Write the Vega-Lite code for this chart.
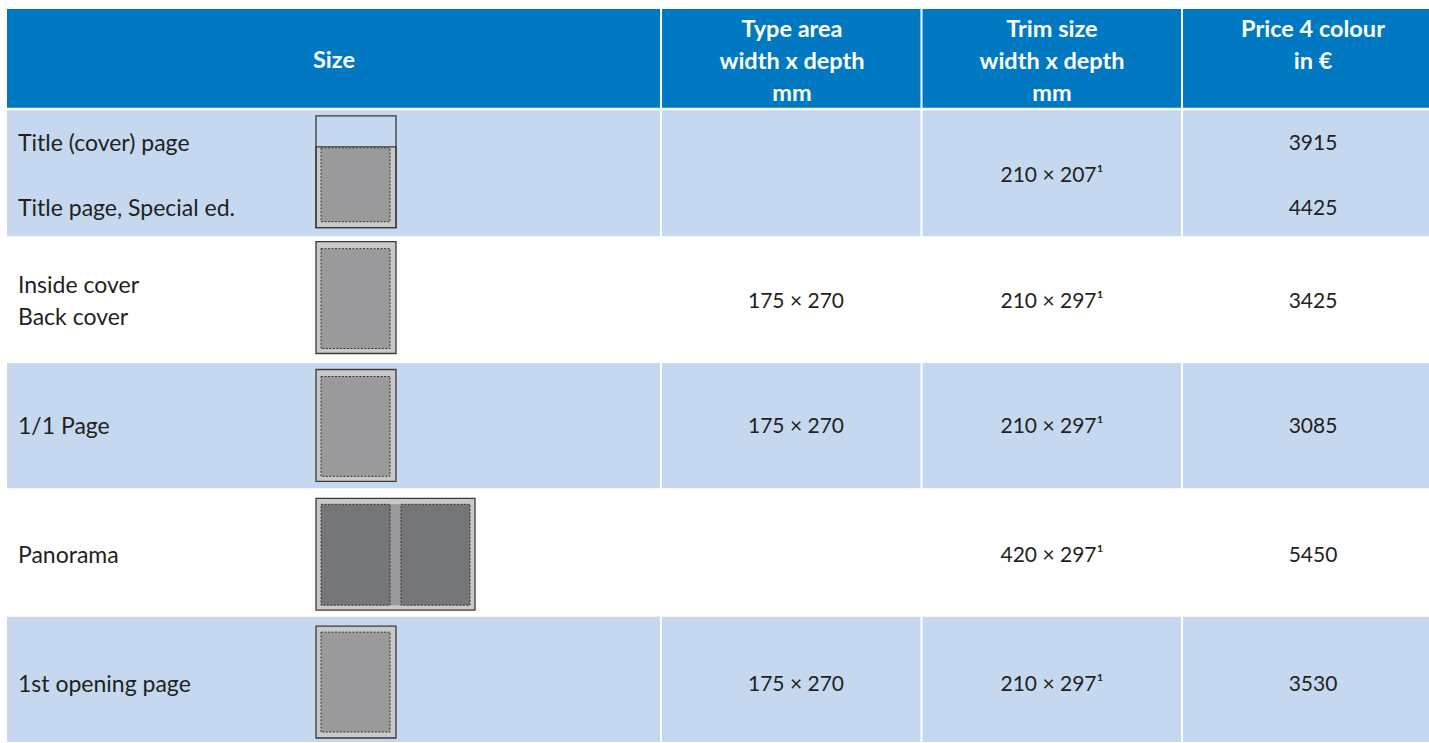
{
  "$schema": "https://vega.github.io/schema/vega-lite/v6.json",
  "width": 1429,
  "height": 743,
  "autosize": {"type": "fit", "contains": "padding"},
  "padding": 0,
  "background": "white",
  "config": {"view": {"stroke": null}, "font": "Lato"},
  "datasets": {
    "rows": [
      {"part": "header", "left": 7, "right": 1429, "top": 9, "bottom": 108},
      {"part": "shade", "left": 7, "right": 1429, "top": 110.5, "bottom": 236.5},
      {"part": "shade", "left": 7, "right": 1429, "top": 363.5, "bottom": 489},
      {"part": "shade", "left": 7, "right": 1429, "top": 617.5, "bottom": 743}
    ],
    "seps": [
      {"x": 661, "top": 9, "bottom": 743},
      {"x": 921.5, "top": 9, "bottom": 743},
      {"x": 1182, "top": 9, "bottom": 743}
    ],
    "icons": [
      {"icon": "cover", "part": "sheet", "x0": 316, "x1": 396, "y0": 147, "y1": 228},
      {"icon": "cover", "part": "type", "x0": 321, "x1": 390, "y0": 148, "y1": 222},
      {"icon": "cover", "part": "frame", "x0": 316, "x1": 396, "y0": 116, "y1": 228},
      {"icon": "inside", "part": "sheet", "x0": 316, "x1": 396, "y0": 242, "y1": 354},
      {"icon": "inside", "part": "type", "x0": 321, "x1": 390, "y0": 249, "y1": 349},
      {"icon": "page", "part": "sheet", "x0": 316, "x1": 396, "y0": 370, "y1": 482},
      {"icon": "page", "part": "type", "x0": 321, "x1": 390, "y0": 377, "y1": 477},
      {"icon": "panorama", "part": "sheet", "x0": 316, "x1": 475, "y0": 499, "y1": 611},
      {"icon": "panorama", "part": "gutter", "x0": 390, "x1": 401, "y0": 505, "y1": 606},
      {"icon": "panorama", "part": "spread", "x0": 321, "x1": 390, "y0": 505, "y1": 606},
      {"icon": "panorama", "part": "spread", "x0": 401, "x1": 470, "y0": 505, "y1": 606},
      {"icon": "opening", "part": "sheet", "x0": 316, "x1": 396, "y0": 627, "y1": 739},
      {"icon": "opening", "part": "type", "x0": 321, "x1": 390, "y0": 633, "y1": 733}
    ],
    "header": [
      {"label": "Size", "x": 334, "y": 61},
      {"label": "Type area", "x": 792, "y": 30},
      {"label": "width x depth", "x": 792, "y": 62},
      {"label": "mm", "x": 792, "y": 94},
      {"label": "Trim size", "x": 1052, "y": 30},
      {"label": "width x depth", "x": 1052, "y": 62},
      {"label": "mm", "x": 1052, "y": 94},
      {"label": "Price 4 colour", "x": 1313, "y": 30},
      {"label": "in €", "x": 1313, "y": 62}
    ],
    "sizes": [
      {"label": "Title (cover) page", "x": 18, "y": 144},
      {"label": "Title page, Special ed.", "x": 18, "y": 209},
      {"label": "Inside cover", "x": 18, "y": 286},
      {"label": "Back cover", "x": 18, "y": 318},
      {"label": "1/1 Page", "x": 18, "y": 428},
      {"label": "Panorama", "x": 18, "y": 557},
      {"label": "1st opening page", "x": 18, "y": 686}
    ],
    "values": [
      {"label": "175 × 270", "x": 796, "y": 302},
      {"label": "175 × 270", "x": 796, "y": 428},
      {"label": "175 × 270", "x": 796, "y": 686},
      {"label": "210 × 207¹", "x": 1052, "y": 176},
      {"label": "210 × 297¹", "x": 1052, "y": 302},
      {"label": "210 × 297¹", "x": 1052, "y": 428},
      {"label": "420 × 297¹", "x": 1052, "y": 557},
      {"label": "210 × 297¹", "x": 1052, "y": 686},
      {"label": "3915", "x": 1313, "y": 144},
      {"label": "4425", "x": 1313, "y": 209},
      {"label": "3425", "x": 1313, "y": 302},
      {"label": "3085", "x": 1313, "y": 428},
      {"label": "5450", "x": 1313, "y": 557},
      {"label": "3530", "x": 1313, "y": 686}
    ]
  },
  "layer": [
    {
      "data": {"name": "rows"},
      "mark": {"type": "rect"},
      "encoding": {
        "x": {"field": "left", "type": "quantitative", "scale": {"domain": [0, 1429], "nice": false, "zero": false}, "axis": null},
        "x2": {"field": "right"},
        "y": {"field": "top", "type": "quantitative", "scale": {"domain": [0, 743], "nice": false, "zero": false, "reverse": true}, "axis": null},
        "y2": {"field": "bottom"},
        "color": {"field": "part", "type": "nominal", "scale": {"domain": ["header", "shade"], "range": ["#0079c2", "#c6d8ef"]}, "legend": null}
      }
    },
    {
      "data": {"name": "seps"},
      "mark": {"type": "rule", "color": "white", "strokeWidth": 2},
      "encoding": {
        "x": {"field": "x", "type": "quantitative"},
        "y": {"field": "top", "type": "quantitative"},
        "y2": {"field": "bottom"}
      }
    },
    {
      "data": {"name": "icons"},
      "transform": [{"filter": "datum.part === 'sheet'"}],
      "mark": {"type": "rect", "fill": "#c9c9c9", "stroke": "#3a3a3a", "strokeWidth": 1.3},
      "encoding": {
        "x": {"field": "x0", "type": "quantitative"}, "x2": {"field": "x1"},
        "y": {"field": "y0", "type": "quantitative"}, "y2": {"field": "y1"}
      }
    },
    {
      "data": {"name": "icons"},
      "transform": [{"filter": "datum.part === 'gutter'"}],
      "mark": {"type": "rect", "fill": "#9a9a9c"},
      "encoding": {
        "x": {"field": "x0", "type": "quantitative"}, "x2": {"field": "x1"},
        "y": {"field": "y0", "type": "quantitative"}, "y2": {"field": "y1"}
      }
    },
    {
      "data": {"name": "icons"},
      "transform": [{"filter": "datum.part === 'type'"}],
      "mark": {"type": "rect", "fill": "#9a9a9c", "stroke": "#333333", "strokeWidth": 1, "strokeDash": [2, 1.5]},
      "encoding": {
        "x": {"field": "x0", "type": "quantitative"}, "x2": {"field": "x1"},
        "y": {"field": "y0", "type": "quantitative"}, "y2": {"field": "y1"}
      }
    },
    {
      "data": {"name": "icons"},
      "transform": [{"filter": "datum.part === 'spread'"}],
      "mark": {"type": "rect", "fill": "#75767a", "stroke": "#333333", "strokeWidth": 1, "strokeDash": [2, 1.5]},
      "encoding": {
        "x": {"field": "x0", "type": "quantitative"}, "x2": {"field": "x1"},
        "y": {"field": "y0", "type": "quantitative"}, "y2": {"field": "y1"}
      }
    },
    {
      "data": {"name": "icons"},
      "transform": [{"filter": "datum.part === 'frame'"}],
      "mark": {"type": "rect", "fill": null, "fillOpacity": 0, "stroke": "#3a3a3a", "strokeWidth": 1.3},
      "encoding": {
        "x": {"field": "x0", "type": "quantitative"}, "x2": {"field": "x1"},
        "y": {"field": "y0", "type": "quantitative"}, "y2": {"field": "y1"}
      }
    },
    {
      "data": {"name": "header"},
      "mark": {"type": "text", "align": "center", "baseline": "middle", "font": "Lato", "fontWeight": "bold", "fontSize": 23.5, "color": "white"},
      "encoding": {
        "x": {"field": "x", "type": "quantitative"},
        "y": {"field": "y", "type": "quantitative"},
        "text": {"field": "label", "type": "nominal"}
      }
    },
    {
      "data": {"name": "sizes"},
      "mark": {"type": "text", "align": "left", "baseline": "middle", "font": "Lato", "fontSize": 23, "color": "#231f20"},
      "encoding": {
        "x": {"field": "x", "type": "quantitative"},
        "y": {"field": "y", "type": "quantitative"},
        "text": {"field": "label", "type": "nominal"}
      }
    },
    {
      "data": {"name": "values"},
      "mark": {"type": "text", "align": "center", "baseline": "middle", "font": "Lato", "fontSize": 21, "color": "#231f20"},
      "encoding": {
        "x": {"field": "x", "type": "quantitative"},
        "y": {"field": "y", "type": "quantitative"},
        "text": {"field": "label", "type": "nominal"}
      }
    }
  ]
}
